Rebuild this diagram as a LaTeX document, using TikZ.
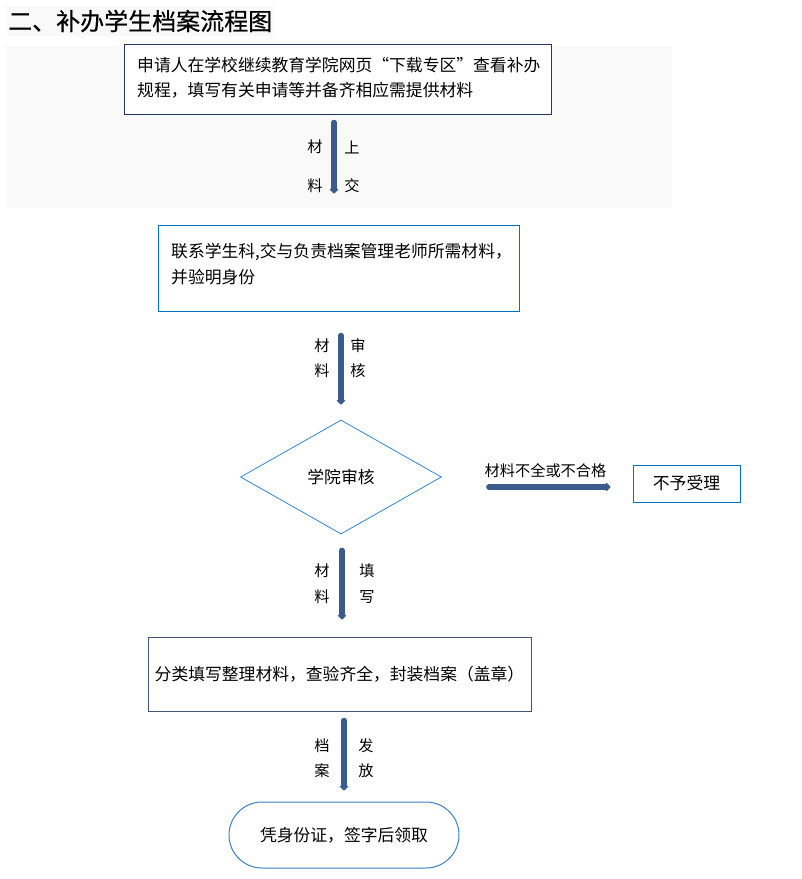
\documentclass[tikz,border=0pt]{standalone}
\usepackage{fontspec}
\setmainfont{Noto Sans CJK SC}
\newfontfamily\titlefont{Noto Sans CJK SC}[FakeBold=0.5]
\usepackage{xcolor}
\usepackage{tikz}
\usetikzlibrary{shapes,arrows,positioning,calc,arrows.meta}

\definecolor{bggray}{RGB}{249,249,249}
\definecolor{navy}{RGB}{31,56,100}
\definecolor{boxblue}{RGB}{0,112,192}
\definecolor{diablue}{RGB}{46,134,206}
\definecolor{pillblue}{RGB}{60,130,200}
\definecolor{slate}{RGB}{64,84,120}
\definecolor{arrowblue}{RGB}{59,91,140}

\begin{document}
\begin{tikzpicture}[x=1pt, y=-1pt,
    box/.style={draw, fill=white, line width=1pt, inner sep=0pt},
    lbl/.style={font=\fontsize{15.2}{16}\selectfont, inner sep=0pt},
    flow/.style={draw=arrowblue, line width=5.5pt, line cap=round, -{Triangle[width=10pt,length=5pt,round]}}]
    \useasboundingbox (0,0) rectangle (802,879);

    % grey backgrounds
    \fill[bggray] (7,6) rectangle (274,36);
    \fill[bggray] (7,46) rectangle (672,208);
    \node[anchor=west, inner sep=0pt, font=\titlefont\fontsize{24}{25}\selectfont] (title) at (8,21) {二、补办学生档案流程图};

    % boxes
    \node[box, draw=navy, minimum width=427pt, minimum height=70pt] (apply) at (337.5,79) {};
    \node[anchor=north west, align=left, inner sep=0pt, font=\fontsize{16.8}{25}\selectfont] at (137,57)
        {申请人在学校继续教育学院网页“下载专区”查看补办\\规程，填写有关申请等并备齐相应需提供材料};
    \node[box, draw=boxblue, minimum width=361pt, minimum height=86pt] (submit) at (338.5,268) {};
    \node[anchor=north west, align=left, inner sep=0pt, font=\fontsize{16.8}{26}\selectfont] at (171,243)
        {联系学生科,交与负责档案管理老师所需材料，\\并验明身份};
    \node[draw=diablue, line width=0.8pt, diamond, minimum width=201pt, minimum height=114pt,
        font=\fontsize{16.8}{18}\selectfont] (check) at (341,477) {学院审核};
    \node[box, draw=boxblue, minimum width=107pt, minimum height=37pt,
        font=\fontsize{16.8}{18}\selectfont] (reject) at (686.5,483.5) {不予受理};
    \node[box, draw=slate, minimum width=383pt, minimum height=74pt,
        font=\fontsize{16.8}{18}\selectfont] (sort) at (339.5,674) {分类填写整理材料，查验齐全，封装档案（盖章）};
    \node[box, draw=pillblue, rounded corners=33pt, minimum width=230pt, minimum height=66pt,
        font=\fontsize{16.8}{18}\selectfont] (collect) at (344,835) {凭身份证，签字后领取};

    % arrows
    \draw[flow] (apply.south) ++(-3.5,8) coordinate (a1) -- (a1 |- submit.north) [shorten >=31pt];
    \draw[flow] (submit.south -| check.north) ++(0,24) coordinate (a2) -- (check.north) [shorten >=15pt];
    \draw[flow] (check.south) ++(1,16) coordinate (a3) -- (a3 |- sort.north) [shorten >=17pt];
    \draw[flow] (sort.south -| collect.north) ++(0,9) coordinate (a4) -- (collect.north) [shorten >=11pt];
    \draw[flow] (check.east) ++(47,10) coordinate (a5) -- (a5 -| reject.west) [shorten >=22pt];

    % arrow labels
    \node[lbl] at (315,147) {材};
    \node[lbl] at (315,186) {料};
    \node[lbl] at (352,147) {上};
    \node[lbl] at (352,186) {交};
    \node[lbl] at (322,346) {材};
    \node[lbl] at (322,371) {料};
    \node[lbl] at (358,346) {审};
    \node[lbl] at (358,371) {核};
    \node[lbl] at (322,571) {材};
    \node[lbl] at (322,597) {料};
    \node[lbl] at (367,571) {填};
    \node[lbl] at (367,597) {写};
    \node[lbl] at (322,746) {档};
    \node[lbl] at (322,771) {案};
    \node[lbl] at (366,746) {发};
    \node[lbl] at (366,771) {放};
    \node[lbl] at (545.5,471) {材料不全或不合格};
\end{tikzpicture}
\end{document}
